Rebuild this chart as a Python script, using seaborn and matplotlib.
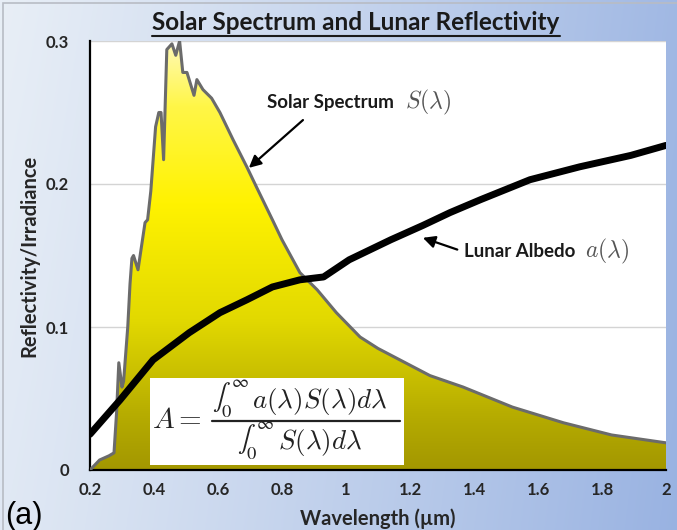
import numpy as np
import matplotlib
matplotlib.use("Agg")
import matplotlib.pyplot as plt
import seaborn as sns
from matplotlib.colors import LinearSegmentedColormap
from matplotlib.patches import Rectangle
from matplotlib.lines import Line2D

# ---------------- data ----------------
solar_wavelength = [0.20, 0.23, 0.26, 0.275, 0.283, 0.29, 0.30, 0.305, 0.318, 0.325,
                    0.331, 0.336, 0.35, 0.372, 0.38, 0.39, 0.405, 0.415, 0.422, 0.43,
                    0.44, 0.456, 0.468, 0.48, 0.49, 0.503, 0.525, 0.534, 0.553, 0.58,
                    0.606, 0.647, 0.69, 0.72, 0.77, 0.80, 0.856, 0.91, 0.97, 1.044,
                    1.10, 1.2625, 1.366, 1.52, 1.68, 1.83, 2.00]
solar_irradiance = [0.000, 0.007, 0.010, 0.012, 0.040, 0.075, 0.058, 0.062, 0.100, 0.130,
                    0.148, 0.150, 0.140, 0.173, 0.175, 0.195, 0.240, 0.250, 0.250, 0.217,
                    0.294, 0.298, 0.290, 0.300, 0.278, 0.278, 0.262, 0.273, 0.266, 0.260,
                    0.250, 0.231, 0.212, 0.198, 0.175, 0.161, 0.138, 0.126, 0.110, 0.093,
                    0.085, 0.066, 0.058, 0.044, 0.033, 0.0245, 0.019]

albedo_wavelength = [0.20, 0.294, 0.397, 0.51, 0.606, 0.69, 0.77, 0.856, 0.93, 1.01,
                     1.14, 1.24, 1.325, 1.42, 1.575, 1.73, 1.89, 2.00]
albedo_value = [0.025, 0.049, 0.077, 0.096, 0.110, 0.119, 0.128, 0.133, 0.135, 0.147,
                0.161, 0.171, 0.180, 0.189, 0.203, 0.212, 0.220, 0.227]

x_ticks = [0.2, 0.4, 0.6, 0.8, 1.0, 1.2, 1.4, 1.6, 1.8, 2.0]
x_tick_labels = ["0.2", "0.4", "0.6", "0.8", "1", "1.2", "1.4", "1.6", "1.8", "2"]
y_ticks = [0.0, 0.1, 0.2, 0.3]
y_tick_labels = ["0", "0.1", "0.2", "0.3"]

title_text = "Solar Spectrum and Lunar Reflectivity"
x_label = "Wavelength (µm)"
y_label = "Reflectivity/Irradiance"

# ---------------- style ----------------
sns.set_theme(style="white")
plt.rcParams['font.family'] = ['Lato', 'DejaVu Sans']
plt.rcParams['mathtext.fontset'] = 'cm'

W, H = 677, 530
fig = plt.figure(figsize=(W / 100, H / 100), dpi=100)

# background gradient (slide-like)
bg = fig.add_axes([0, 0, 1, 1], zorder=-10)
c0 = np.array([0.91, 0.935, 0.965])
c1 = np.array([0.60, 0.70, 0.885])
tx = np.linspace(0, 1, 400)[None, :, None]
ty = np.linspace(0, 1, 300)[:, None, None]
t = np.clip(0.9 * tx ** 1.1 + 0.1 * ty, 0, 1)
img = c0 * (1 - t) + c1 * t
bg.imshow(img, extent=[0, 1, 0, 1], aspect='auto', origin='upper')
bg.add_patch(Rectangle((0.004, -0.1), 1.2, 1.095, fill=False, ec='#b8bcc4', lw=1.2))
bg.set_xlim(0, 1)
bg.set_ylim(0, 1)
bg.axis('off')

# main axes
ax = fig.add_axes([90 / W, 1 - 470 / H, 576 / W, 429 / H])
ax.set_facecolor('white')

# gradient fill under solar spectrum
poly = ax.fill_between(solar_wavelength, solar_irradiance, 0, color='none', lw=0)
cmap = LinearSegmentedColormap.from_list(
    'sun', [(0.0, '#a39700'), (0.12, '#b5ab00'), (0.35, '#e2d900'), (0.62, '#fff200'),
            (0.85, '#fff648'), (1.0, '#fffab8')])
im = ax.imshow(np.linspace(0, 1, 256)[:, None], extent=[0.2, 2.0, 0, 0.3], origin='lower',
               aspect='auto', cmap=cmap, zorder=1)
im.set_clip_path(poly.get_paths()[0], transform=ax.transData)

# lines
sns.lineplot(x=solar_wavelength, y=solar_irradiance, color='#6b6b6b', lw=2.2,
             estimator=None, sort=False, ax=ax, zorder=3)
sns.lineplot(x=albedo_wavelength, y=albedo_value, color='black', lw=5,
             estimator=None, sort=False, ax=ax, zorder=4)

ax.set_xlim(0.2, 2.0)
ax.set_ylim(0, 0.3)
ax.set_xticks(x_ticks)
ax.set_xticklabels(x_tick_labels, fontweight='bold', fontsize=12)
ax.set_yticks(y_ticks)
ax.set_yticklabels(y_tick_labels, fontweight='bold', fontsize=12)
ax.tick_params(axis='x', direction='inout', length=7, width=1.5, color='black', pad=5)
ax.tick_params(axis='y', direction='out', length=5, width=1.5, color='black', pad=10)
ax.grid(axis='y', color='#d4d4d4', lw=1)
ax.set_axisbelow(True)
for s in ['top', 'right']:
    ax.spines[s].set_visible(False)
for s in ['left', 'bottom']:
    ax.spines[s].set_color('black')
    ax.spines[s].set_linewidth(1.6)
ax.set_xlabel(x_label, fontweight='bold', fontsize=14.5, labelpad=8)
ax.set_ylabel(y_label, fontweight='bold', fontsize=14.5, labelpad=5)

# formula box (manual fraction layout)
ax.add_patch(Rectangle((0.3875, 0.0035), 1.18 - 0.3875, 0.064 - 0.0035,
                       facecolor='white', edgecolor='none', zorder=6))
fcol = '#222222'
ax.text(0.395, 0.035, r"$A =$", fontsize=21, ha='left', va='center', zorder=7, color=fcol)
ax.add_line(Line2D([0.581, 1.169], [0.0343, 0.0343], color=fcol, lw=1.6, zorder=7))
ax.text(0.581, 0.0495, r"$\int_0^\infty$", fontsize=19, math_fontfamily='stix',
        ha='left', va='center', zorder=7, color=fcol)
ax.text(0.706, 0.048, r"$a(\lambda)S(\lambda)d\lambda$", fontsize=19.5,
        ha='left', va='center', zorder=7, color=fcol)
ax.text(0.66, 0.0205, r"$\int_0^\infty$", fontsize=19, math_fontfamily='stix',
        ha='left', va='center', zorder=7, color=fcol)
ax.text(0.787, 0.0195, r"$S(\lambda)d\lambda$", fontsize=19.5,
        ha='left', va='center', zorder=7, color=fcol)

# annotations
ax.annotate("", xy=(0.69, 0.21), xytext=(0.872, 0.246),
            arrowprops=dict(arrowstyle='-|>,head_length=0.6,head_width=0.3', color='black', lw=1.6),
            zorder=8)
ax.text(0.753, 0.257, "Solar Spectrum", fontweight='bold', fontsize=13.5, ha='left', va='center',
        color='#1a1a1a', zorder=8)
ax.text(1.184, 0.257, r"$S(\lambda)$", fontsize=17, ha='left', va='center', color='#555555', zorder=8)

ax.annotate("", xy=(1.232, 0.163), xytext=(1.356, 0.1535),
            arrowprops=dict(arrowstyle='-|>,head_length=0.6,head_width=0.3', color='black', lw=1.6),
            zorder=8)
ax.text(1.37, 0.1525, "Lunar Albedo", fontweight='bold', fontsize=13.5, ha='left', va='center',
        color='#1a1a1a', zorder=8)
ax.text(1.747, 0.1525, r"$a(\lambda)$", fontsize=17, ha='left', va='center', color='#555555', zorder=8)

# title with underline
ttl = fig.text(356 / W, 1 - 22 / H, title_text, fontweight='bold', fontsize=17.5,
               ha='center', va='center', color='#1a1a1a')
fig.text(5 / W, 1 - 516 / H, "(a)", fontsize=22, family=['Liberation Sans', 'DejaVu Sans'],
         ha='left', va='center', color='black')

fig.canvas.draw()
bb = ttl.get_window_extent(fig.canvas.get_renderer())
uy = (H - 36) / H
fig.add_artist(Line2D([bb.x0 / W, bb.x1 / W], [uy, uy], transform=fig.transFigure,
                      color='#1a1a1a', lw=1.5))

fig.savefig("out.png", dpi=100)
